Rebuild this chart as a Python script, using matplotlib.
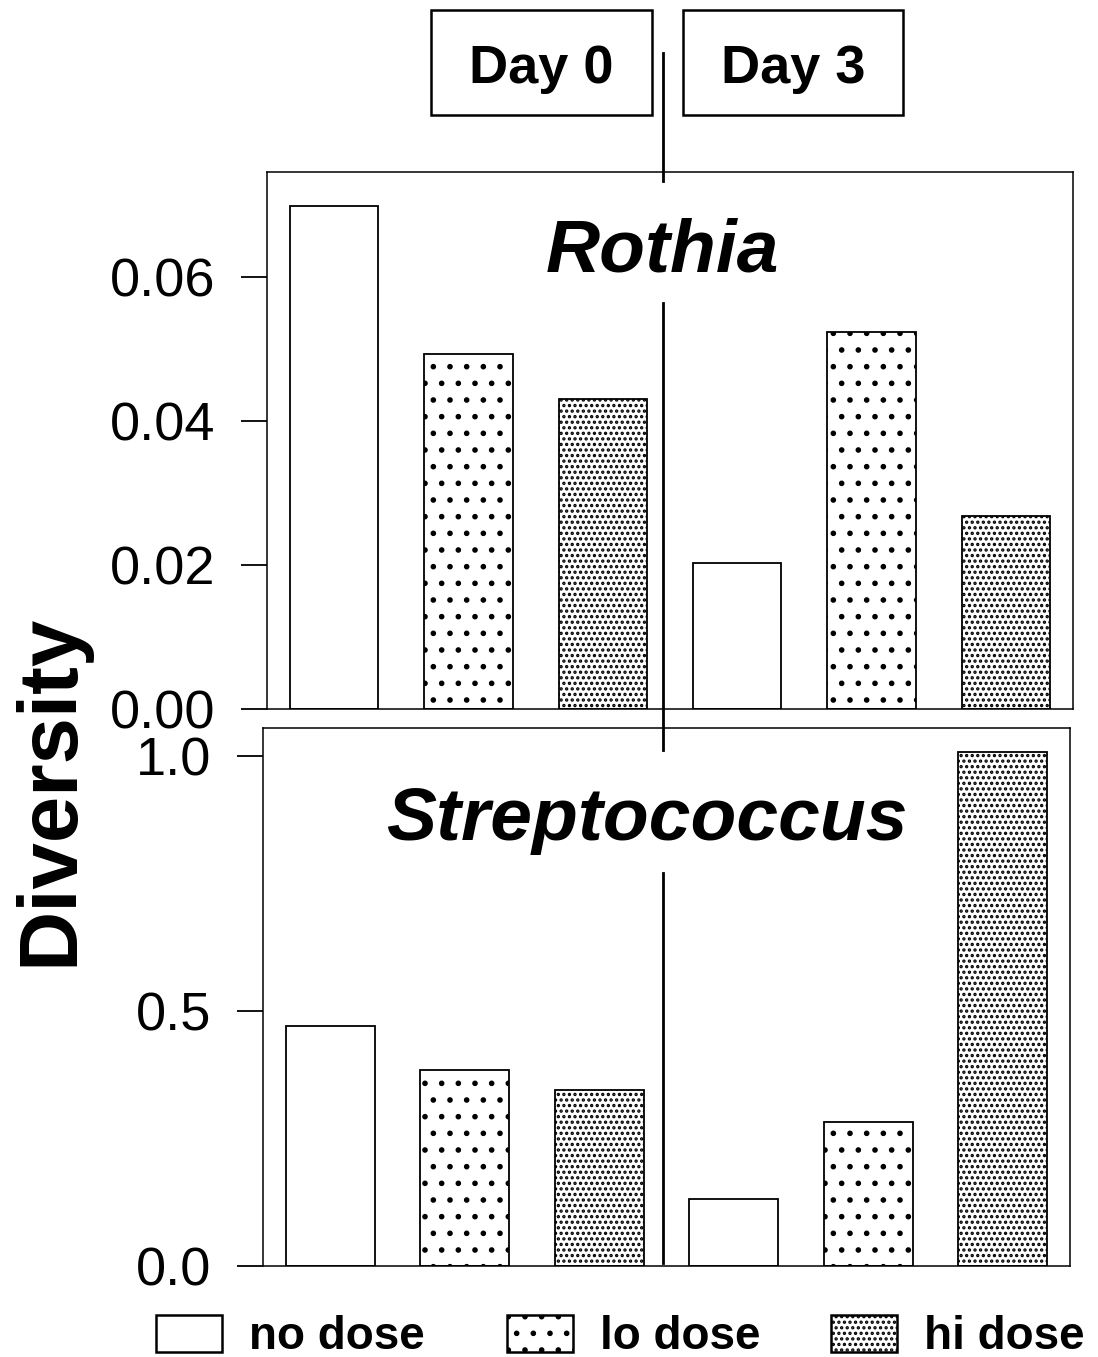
import numpy as np
import matplotlib.pyplot as plt
from matplotlib.patches import Rectangle
from matplotlib.lines import Line2D

plt.rcParams['font.family'] = ['Liberation Sans', 'DejaVu Sans']
plt.rcParams['hatch.linewidth'] = 1.6

# diversity per group: day 0 (no, lo, hi dose) then day 3 (no, lo, hi dose)
groups = ['no dose', 'lo dose', 'hi dose', 'no dose', 'lo dose', 'hi dose']
rothia = [0.0699, 0.0493, 0.0431, 0.0203, 0.0524, 0.0268]
strep = [0.471, 0.384, 0.345, 0.131, 0.282, 1.008]
days = ['Day 0', 'Day 3']
legend_labels = ['no dose', 'lo dose', 'hi dose']
hatches = {'no dose': None, 'lo dose': '.', 'hi dose': '...'}

W, H = 1098, 1357
fig = plt.figure(figsize=(W / 100, H / 100), dpi=100)


def px(x0, y0, x1, y1):
    # pixel box -> figure fraction rect
    return [x0 / W, 1 - y1 / H, (x1 - x0) / W, (y1 - y0) / H]


def panel(rect, values, ymax, yticks, ticklabels, title, title_x, title_y):
    ax = fig.add_axes(rect)
    x = np.arange(len(values))
    for xi, v, g in zip(x, values, groups):
        ax.bar(xi, v, width=0.66, facecolor='white', edgecolor='black',
               linewidth=1.3, hatch=hatches[g])
    ax.set_xlim(-0.5, 5.5)
    ax.set_ylim(0, ymax)
    ax.set_xticks([])
    ax.set_yticks(yticks)
    ax.set_yticklabels(ticklabels, fontsize=39)
    ax.tick_params(axis='y', direction='out', length=19, width=1.3, pad=18)
    for s in ax.spines.values():
        s.set_linewidth(1.1)
    ax.text(title_x, title_y, title, transform=ax.transAxes, ha='center',
            va='baseline', fontsize=54, fontweight='bold', fontstyle='italic')
    return ax


panel(px(267, 172, 1073, 709), rothia, 0.0746, [0, 0.02, 0.04, 0.06],
      ['0.00', '0.02', '0.04', '0.06'], 'Rothia', 0.491, 0.814)
panel(px(263, 728, 1070, 1266), strep, 1.055, [0, 0.5, 1.0],
      ['0.0', '0.5', '1.0'], 'Streptococcus', 0.476, 0.792)

fig.text(50 / W, 1 - 790 / H, 'Diversity', rotation=90, ha='center', va='center',
         fontsize=60, fontweight='bold')

# day header boxes
for d, (x0, x1) in zip(days, [(431, 652), (683, 903)]):
    fig.add_artist(Rectangle((x0 / W, 1 - 115 / H), (x1 - x0) / W, 105 / H,
                             transform=fig.transFigure, facecolor='white',
                             edgecolor='black', linewidth=1.8))
    fig.text((x0 + x1) / 2 / W, 1 - 69 / H, d, ha='center', va='center',
             fontsize=39, fontweight='bold')

# day divider
for y0, y1 in [(53, 181), (303, 750), (873, 1263)]:
    fig.add_artist(Line2D([663 / W, 663 / W], [1 - y0 / H, 1 - y1 / H],
                          transform=fig.transFigure, color='black', linewidth=2.0))

# legend
for lab, bx in zip(legend_labels, [156, 507, 831]):
    fig.add_artist(Rectangle((bx / W, 1 - 1352 / H), 66 / W, 37 / H,
                             transform=fig.transFigure, facecolor='white',
                             edgecolor='black', linewidth=1.8, hatch=hatches[lab]))
    fig.text((bx + 93) / W, 1 - 1337 / H, lab, ha='left', va='center',
             fontsize=33, fontweight='bold')

fig.savefig('out.png', dpi=100)
